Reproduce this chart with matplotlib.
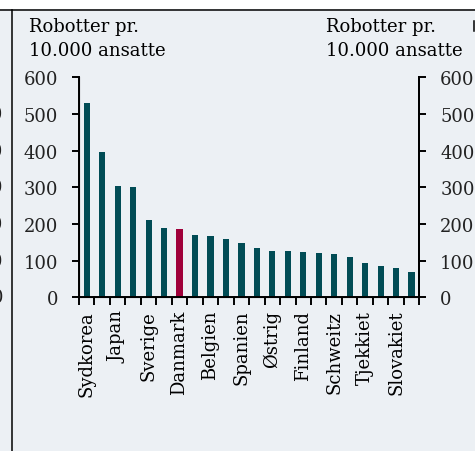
import numpy as np
import matplotlib
matplotlib.use("Agg")
import matplotlib.pyplot as plt
from matplotlib.lines import Line2D
from matplotlib.patches import Rectangle

# robot density, robots per 10,000 employees
values = [530, 397, 303, 300, 211, 189, 186, 170, 168, 159, 148,
          134, 127, 126, 124, 120, 118, 109, 94, 86, 79, 70]
shown = {0: "Sydkorea", 2: "Japan", 4: "Sverige", 6: "Danmark", 8: "Belgien",
         10: "Spanien", 12: "Østrig", 14: "Finland", 16: "Schweitz",
         18: "Tjekkiet", 20: "Slovakiet"}
highlight = 6
yticks = [0, 100, 200, 300, 400, 500, 600]
unit_lines = ["Robotter pr.", "10.000 ansatte"]

bg = "#ECF0F4"
teal = "#014C55"
red = "#A0003A"

plt.rcParams['font.family'] = ['DejaVu Serif']
plt.rcParams['font.size'] = 13

W, H = 475, 452
fig = plt.figure(figsize=(W / 100, H / 100), dpi=100, facecolor=bg)

# white strip on top and panel frame lines
fig.add_artist(Rectangle((0, 1 - 10 / H), 1, 10 / H, transform=fig.transFigure,
                         facecolor="white", edgecolor="none"))
fig.add_artist(Line2D([0, 1], [1 - 10.5 / H, 1 - 10.5 / H], transform=fig.transFigure,
                      color="black", lw=1.1))
fig.add_artist(Line2D([11.5 / W, 11.5 / W], [0, 1 - 10.5 / H], transform=fig.transFigure,
                      color="black", lw=1.1))
fig.add_artist(Line2D([473.5 / W, 473.5 / W], [1 - 22 / H, 1 - 32 / H],
                      transform=fig.transFigure, color="black", lw=1.1))

# cut off tick labels from the panel to the left
for v in yticks[:-1]:
    fig.text(3 / W, 1 - (298.3 - v * 0.3667) / H, str(v), ha="right", va="center",
             color="#222222")

ax = fig.add_axes([79 / W, 1 - 298.3 / H, (419.3 - 79) / W, (298.3 - 78.3) / H])
ax.set_facecolor(bg)

x = np.arange(len(values))
colors = [red if i == highlight else teal for i in x]
ax.bar(x, values, width=0.4, color=colors)

ax.set_xlim(-0.5, len(values) - 0.5)
ax.set_ylim(0, 600)
ax.set_yticks(yticks)
ax.set_xticks(np.arange(len(values) + 1) - 0.5)
ax.set_xticklabels([])
ax.set_xticks(list(shown.keys()), minor=True)
ax.set_xticklabels(list(shown.values()), minor=True, rotation=90)
ax.tick_params(axis="x", which="minor", length=0, pad=9)
ax.tick_params(axis="x", which="major", length=6, width=1.4, direction="out")
ax.tick_params(axis="y", length=5, width=1.4, pad=10, labelcolor="#222222")

for s in ["left", "right", "bottom"]:
    ax.spines[s].set_linewidth(1.4)
ax.spines["top"].set_visible(False)

ax2 = ax.twinx()
ax2.set_ylim(0, 600)
ax2.set_yticks(yticks)
ax2.tick_params(axis="y", length=5, width=1.4, pad=10, labelcolor="#222222")
ax2.spines["right"].set_linewidth(1.4)
ax2.spines["top"].set_visible(False)

for xpos in [29, 326]:
    fig.text(xpos / W, 1 - 32 / H, unit_lines[0], ha="left", va="baseline")
    fig.text(xpos / W, 1 - 56 / H, unit_lines[1], ha="left", va="baseline")

fig.savefig("out.png", dpi=100, facecolor=bg)
